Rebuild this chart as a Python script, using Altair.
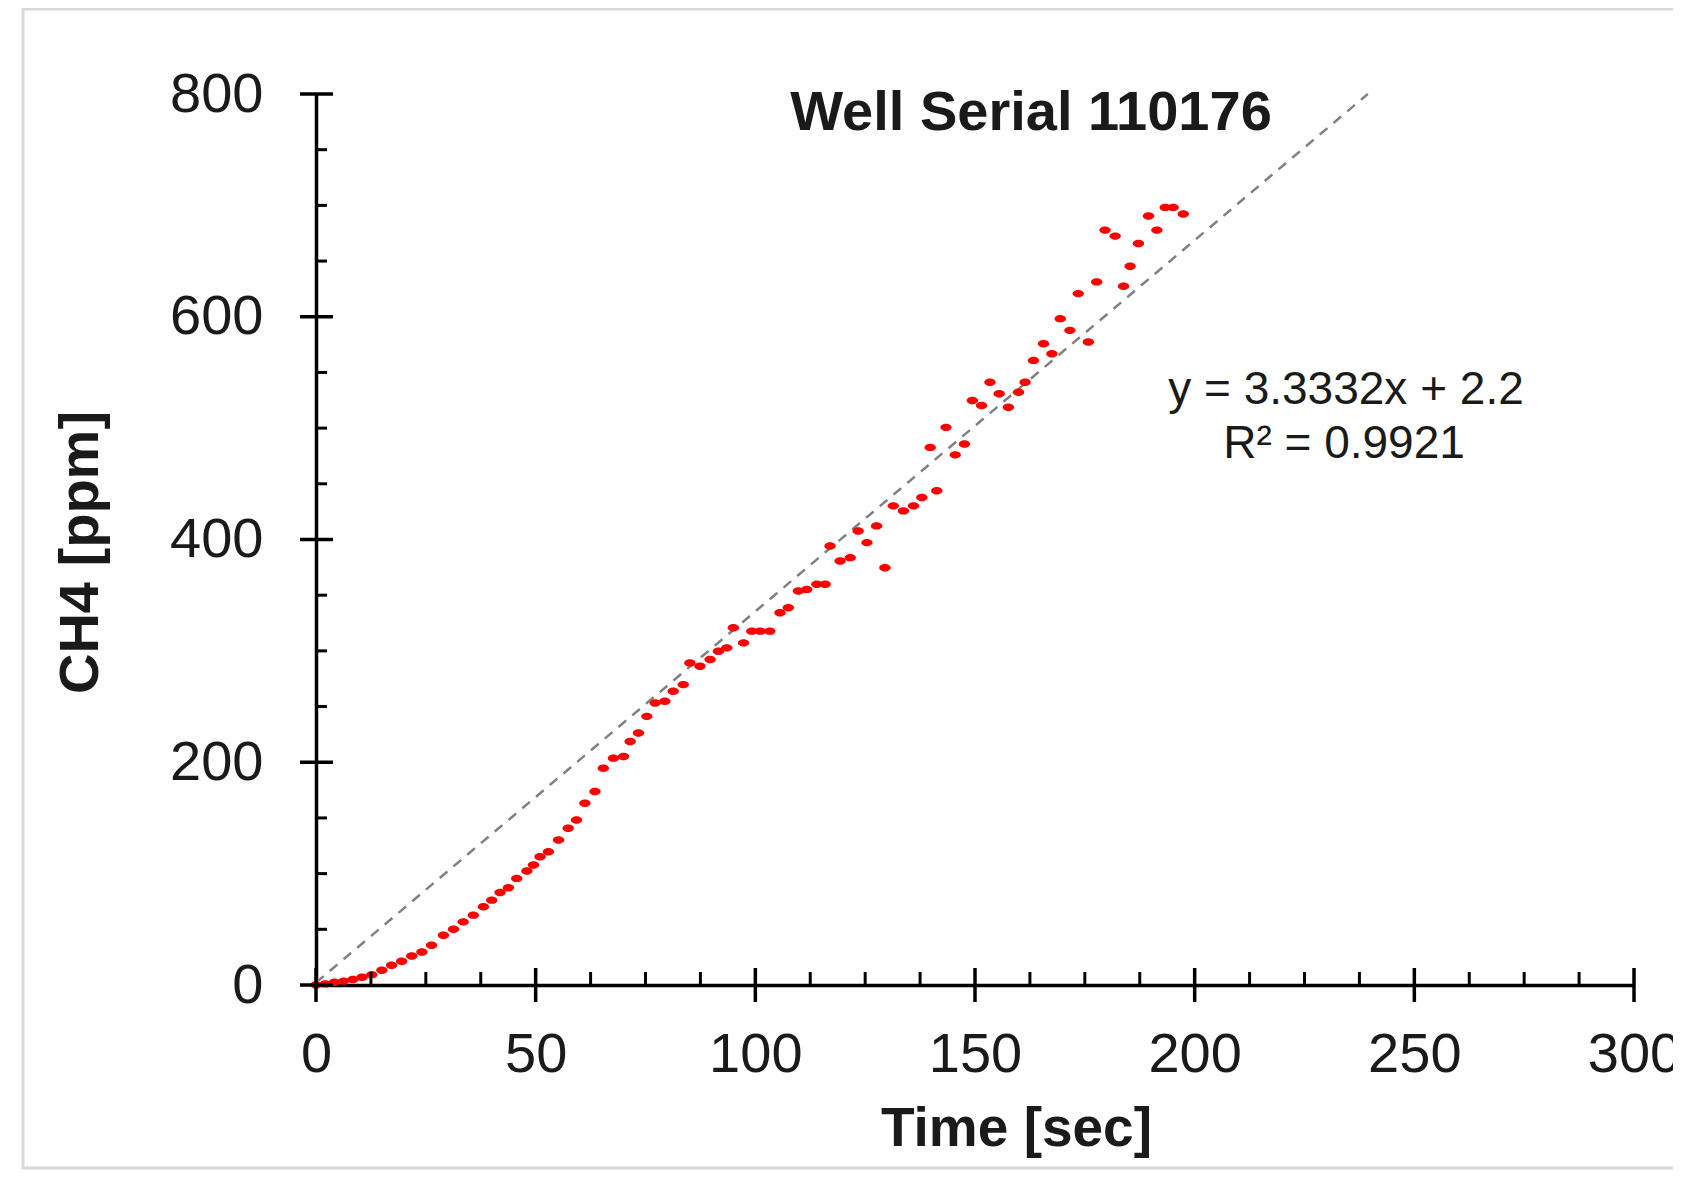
import altair as alt
import pandas as pd

# ---- data ----
time_sec = [0, 2.1, 4.2, 6.3, 8.4, 10.5, 12.7, 15.0, 17.2, 19.5, 21.8, 24.1, 26.3, 29.0,
            31.3, 33.5, 35.8, 38.1, 40.0, 41.9, 43.8, 45.7, 48.0, 49.5, 51.0, 52.9, 55.2,
            57.4, 59.3, 61.2, 63.5, 65.4, 67.7, 70.0, 71.5, 73.4, 75.3, 77.2, 79.4, 81.3,
            83.6, 85.1, 87.4, 89.7, 91.6, 93.5, 95.0, 97.3, 99.2, 101.1, 103.3, 105.6,
            107.5, 109.8, 111.7, 114.0, 115.9, 117.0, 119.3, 121.6, 123.4, 125.4, 127.6,
            129.5, 131.4, 133.7, 136.0, 137.9, 139.8, 141.3, 143.4, 145.5, 147.6, 149.4,
            151.5, 153.4, 155.5, 157.6, 159.9, 161.4, 163.3, 165.6, 167.5, 169.4, 171.6,
            173.5, 175.8, 177.7, 179.6, 181.9, 183.8, 185.3, 187.2, 189.5, 191.4, 193.3,
            195.1, 197.4]
ch4_ppm = [0, 1, 2.5, 3.5, 5, 7, 9.3, 13.2, 17.7, 21.3, 26, 29.7, 35.7, 44.7,
           50, 56.7, 62.7, 70.2, 76.2, 83.1, 87.3, 95.7, 102.3, 107.7, 115.2, 119.7, 130.2,
           140.7, 148.2, 163.2, 173.7, 194.7, 203.7, 205.2, 218.7, 226.2, 241.2, 253.2, 254.7, 263.7,
           269.7, 289.2, 286.2, 292.2, 299.7, 302.7, 320.7, 307.2, 317.7, 317.7, 317.7, 334.2,
           338.7, 353.7, 355.2, 359.8, 359.8, 394.2, 380.7, 383.7, 407.7, 397.2, 412.2,
           374.7, 430.2, 425.7, 430.2, 437.7, 482.7, 443.7, 500.7, 476.0, 485.8, 524.8,
           520.3, 541.2, 530.8, 518.7, 532.2, 541.2, 560.8, 575.8, 566.8, 598.3, 587.8,
           620.8, 577.3, 631.3, 677.8, 672.4, 627.4, 645.4, 665.8, 690.4, 677.8, 698.2,
           698.2, 692.2]

trend_x = [0, 239.4]
trend_y = [2.2, 800.0]

x_major = [0, 50, 100, 150, 200, 250, 300]
x_minor = [12.5, 25, 37.5, 62.5, 75, 87.5, 112.5, 125, 137.5, 162.5, 175, 187.5,
           212.5, 225, 237.5, 262.5, 275, 287.5]
y_major = [0, 200, 400, 600, 800]
y_minor = [50, 100, 150, 250, 300, 350, 450, 500, 550, 650, 700, 750]

title_text = "Well Serial 110176"
eq_line1 = "y = 3.3332x + 2.2"
eq_line2 = "R\u00b2 = 0.9921"
x_title = "Time [sec]"
y_title = "CH4 [ppm]"

W, H = 1318, 891
FONT = "Liberation Sans"
TXT = "#1a1a1a"

pts = pd.DataFrame({"t": time_sec, "y": ch4_ppm})
trend = pd.DataFrame({"t": trend_x, "y": trend_y})

xs = alt.Scale(domain=[0, 300], nice=False, zero=False)
ys = alt.Scale(domain=[0, 800], nice=False, zero=False)

frame = alt.Chart(pd.DataFrame({"a": [0]})).mark_rect(
    fillOpacity=0, stroke="#d9d9d9", strokeWidth=3
).encode(x=alt.value(-293), x2=alt.value(1420), y=alt.value(-85), y2=alt.value(1074))

trend_line = alt.Chart(trend).mark_line(
    color="#808080", strokeWidth=2.5, strokeDash=[10, 8]
).encode(x=alt.X("t:Q", scale=xs), y=alt.Y("y:Q", scale=ys))

ellipse = "M-1,0A1,0.65,0,1,0,1,0A1,0.65,0,1,0,-1,0Z"
points = alt.Chart(pts).mark_point(
    shape=ellipse, filled=True, color="#ff0000", opacity=1, size=130
).encode(
    x=alt.X("t:Q", scale=xs, axis=alt.Axis(
        values=x_major, ticks=False, tickSize=0, grid=False, domainColor="#000000",
        domainWidth=3.5, labelFont=FONT, labelFontSize=56, labelColor=TXT, labelPadding=42,
        labelFlush=False, labelOverlap=False,
        title=x_title, titleFont=FONT, titleFontSize=55, titleFontWeight="bold",
        titleColor=TXT, titleX=700, titleY=160, titleAlign="center",
        titleBaseline="alphabetic")),
    y=alt.Y("y:Q", scale=ys, axis=alt.Axis(
        values=y_major, ticks=False, tickSize=0, grid=False, domainColor="#000000",
        domainWidth=3.5, labelFont=FONT, labelFontSize=56, labelColor=TXT, labelPadding=53,
        labelFlush=False, labelOverlap=False,
        title=y_title, titleFont=FONT, titleFontSize=56, titleFontWeight="bold",
        titleColor=TXT, titleX=-219, titleY=458, titleAlign="center", titleAngle=-90,
        titleBaseline="alphabetic")),
)

xmaj = alt.Chart(pd.DataFrame({"v": x_major})).mark_rule(color="#000000", strokeWidth=3.5).encode(
    x=alt.X("v:Q", scale=xs), y=alt.value(H - 17), y2=alt.value(H + 17))
xmin = alt.Chart(pd.DataFrame({"v": x_minor})).mark_rule(color="#000000", strokeWidth=3).encode(
    x=alt.X("v:Q", scale=xs), y=alt.value(H - 13), y2=alt.value(H))
ymaj = alt.Chart(pd.DataFrame({"v": y_major})).mark_rule(color="#000000", strokeWidth=3.5).encode(
    y=alt.Y("v:Q", scale=ys), x=alt.value(-16), x2=alt.value(17))
ymin = alt.Chart(pd.DataFrame({"v": y_minor})).mark_rule(color="#000000", strokeWidth=3).encode(
    y=alt.Y("v:Q", scale=ys), x=alt.value(0), x2=alt.value(11))

title = alt.Chart(pd.DataFrame({"s": [title_text]})).mark_text(
    font=FONT, fontSize=56, fontWeight="bold", color=TXT, align="center", baseline="alphabetic"
).encode(text="s:N", x=alt.value(715), y=alt.value(36))

eq1 = alt.Chart(pd.DataFrame({"s": [eq_line1]})).mark_text(
    font=FONT, fontSize=46, color=TXT, align="center", baseline="alphabetic"
).encode(text="s:N", x=alt.value(1030), y=alt.value(310))
eq2 = alt.Chart(pd.DataFrame({"s": [eq_line2]})).mark_text(
    font=FONT, fontSize=46, color=TXT, align="center", baseline="alphabetic"
).encode(text="s:N", x=alt.value(1028), y=alt.value(364))

chart = alt.layer(frame, trend_line, points, xmaj, xmin, ymaj, ymin, title, eq1, eq2).properties(
    width=W, height=H,
    background="white",
    autosize=alt.AutoSizeParams(type="none"),
    padding={"left": 308, "top": 86, "right": 39, "bottom": 185},
).configure_view(strokeWidth=0, stroke="transparent")

chart.save("out.html", embed_options={"renderer": "svg", "actions": False})
